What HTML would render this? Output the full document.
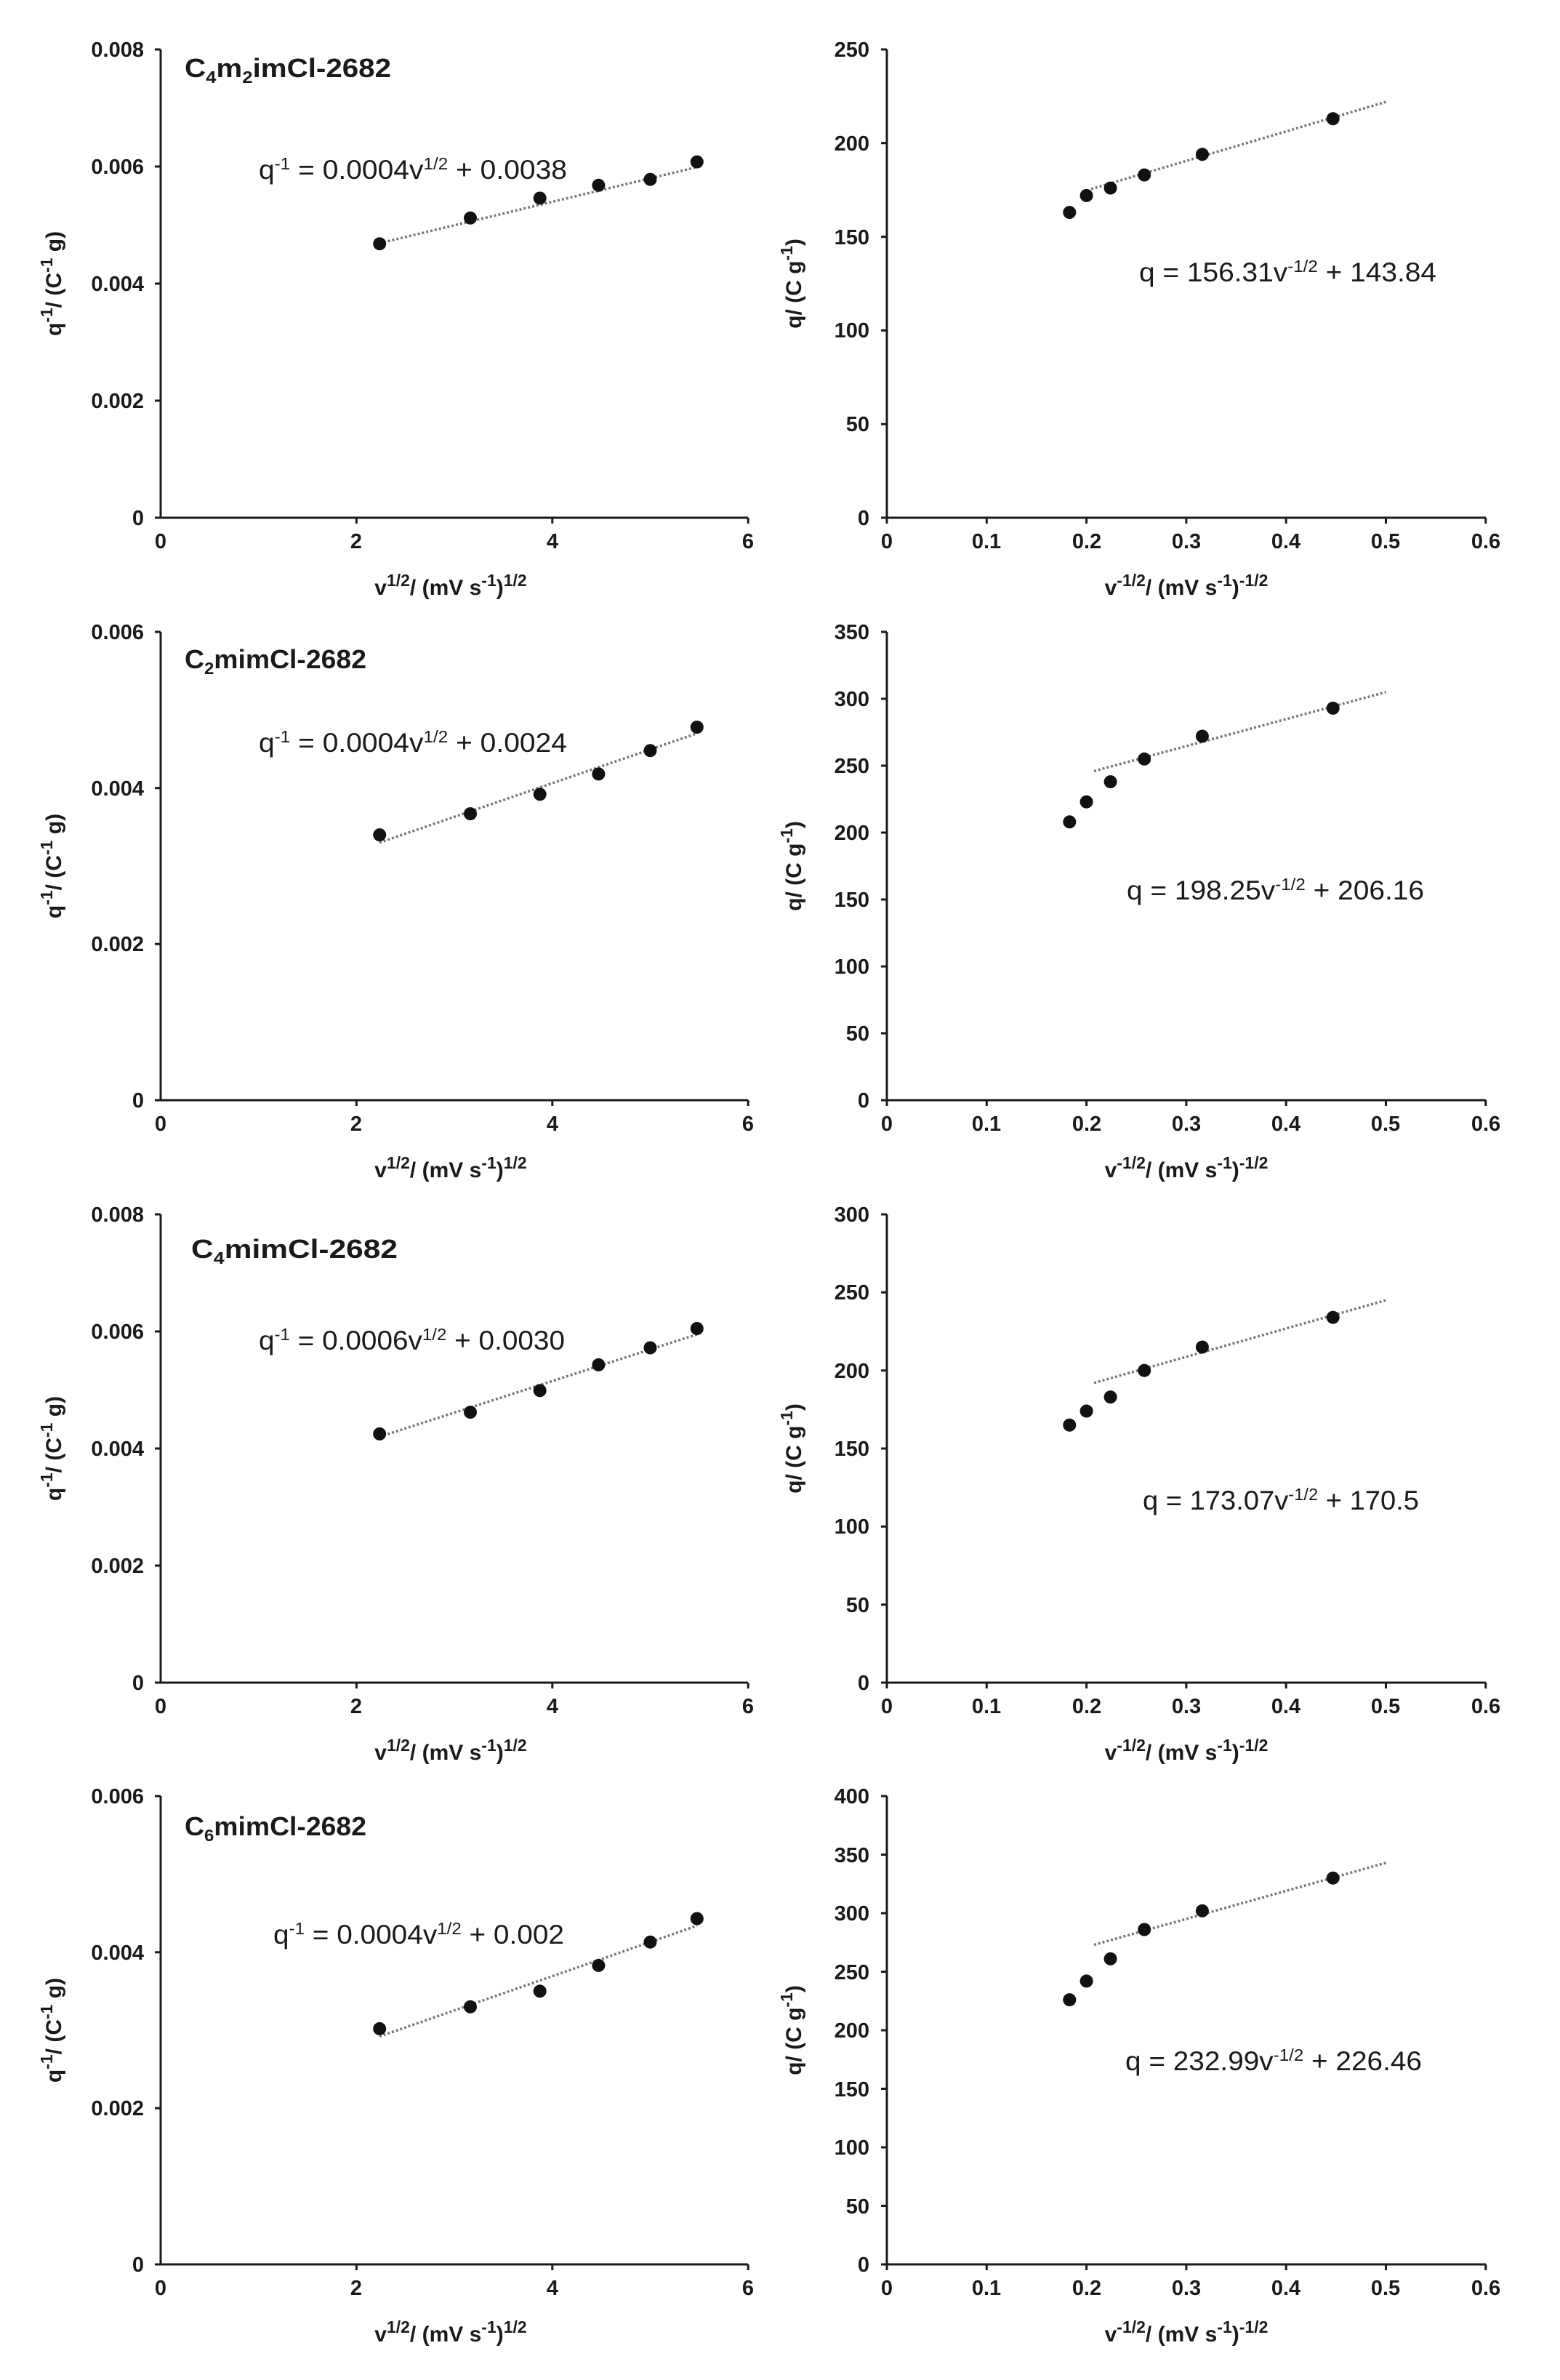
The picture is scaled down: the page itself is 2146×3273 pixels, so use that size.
<!DOCTYPE html>
<html><head><meta charset="utf-8"><style>
html,body{margin:0;padding:0;background:#fff}
svg{display:block}
text{font-family:"Liberation Sans",Arial,sans-serif;fill:#1a1a1a}
.tk{font-size:29px;font-weight:bold}
.tl{font-size:30px;font-weight:bold}
.ti{font-size:36px;font-weight:bold}
.eq{font-size:37px}
.ax{stroke:#1a1a1a;stroke-width:3;fill:none}
.tr{stroke:#777;stroke-width:3.5;stroke-dasharray:3 3;fill:none}
.sup{font-size:23px}
</style></head><body>
<svg width="2146" height="3273" viewBox="0 0 2146 3273" xmlns="http://www.w3.org/2000/svg">
<defs>
<g id="xl">
<path class="ax" d="M221 0V644H1029M221 644h-8M221 0h-8M490.4 644v8M759.8 644v8M1029.2 644v8"/>
</g>
<g id="xlab">
<text class="tk" x="221" y="686" text-anchor="middle">0</text>
<text class="tk" x="490" y="686" text-anchor="middle">2</text>
<text class="tk" x="760" y="686" text-anchor="middle">4</text>
<text class="tk" x="1029" y="686" text-anchor="middle">6</text>
<text class="tl" x="620" y="750" text-anchor="middle">v<tspan class="sup" dy="-12">1/2</tspan><tspan dy="12">/ (mV s</tspan><tspan class="sup" dy="-12">-1</tspan><tspan dy="12">)</tspan><tspan class="sup" dy="-12">1/2</tspan></text>
<text class="tl" transform="translate(84,322) rotate(-90)" text-anchor="middle">q<tspan class="sup" dy="-12">-1</tspan><tspan dy="12">/ (C</tspan><tspan class="sup" dy="-12">-1</tspan><tspan dy="12"> g)</tspan></text>
</g>
<g id="xr">
<path class="ax" d="M1220 0V644H2044M1220 644v8M1357.3 644v8M1494.6 644v8M1631.9 644v8M1769.2 644v8M1906.5 644v8M2043.8 644v8"/>
<text class="tk" x="1220" y="686" text-anchor="middle">0</text>
<text class="tk" x="1357" y="686" text-anchor="middle">0.1</text>
<text class="tk" x="1495" y="686" text-anchor="middle">0.2</text>
<text class="tk" x="1632" y="686" text-anchor="middle">0.3</text>
<text class="tk" x="1769" y="686" text-anchor="middle">0.4</text>
<text class="tk" x="1906" y="686" text-anchor="middle">0.5</text>
<text class="tk" x="2044" y="686" text-anchor="middle">0.6</text>
<text class="tl" x="1632" y="750" text-anchor="middle">v<tspan class="sup" dy="-12">-1/2</tspan><tspan dy="12">/ (mV s</tspan><tspan class="sup" dy="-12">-1</tspan><tspan dy="12">)</tspan><tspan class="sup" dy="-12">-1/2</tspan></text>
<text class="tl" transform="translate(1102,322) rotate(-90)" text-anchor="middle">q/ (C g<tspan class="sup" dy="-12">-1</tspan><tspan dy="12">)</tspan></text>
</g>
</defs>

<!-- Row 1 -->
<g transform="translate(0,68)">
<use href="#xl"/><use href="#xlab"/>
<path class="ax" d="M221 483h-8M221 322h-8M221 161h-8"/>
<g class="tk" text-anchor="end"><text x="198" y="654">0</text><text x="198" y="493">0.002</text><text x="198" y="332">0.004</text><text x="198" y="171">0.006</text><text x="198" y="10">0.008</text></g>
<text class="ti" x="254" y="38" textLength="284" lengthAdjust="spacingAndGlyphs">C<tspan class="sup" dy="8">4</tspan><tspan dy="-8">m</tspan><tspan class="sup" dy="8">2</tspan><tspan dy="-8">imCl-2682</tspan></text>
<text class="eq" x="356" y="178" textLength="424" lengthAdjust="spacingAndGlyphs">q<tspan class="sup" dy="-13">-1</tspan><tspan dy="13"> = 0.0004v</tspan><tspan class="sup" dy="-13">1/2</tspan><tspan dy="13"> + 0.0038</tspan></text>
<path class="tr" d="M522 266.5L959 161.8"/>
<g fill="#111"><circle cx="522.2" cy="267.3" r="9"/><circle cx="647" cy="231.8" r="9"/><circle cx="742.7" cy="204.5" r="9"/><circle cx="823.4" cy="186.8" r="9"/><circle cx="894.5" cy="178.7" r="9"/><circle cx="958.8" cy="154.6" r="9"/></g>
<use href="#xr"/>
<path class="ax" d="M1220 515.2h-8M1220 386.4h-8M1220 257.6h-8M1220 128.8h-8M1220 0h-8M1220 644h-8"/>
<g class="tk" text-anchor="end"><text x="1196" y="654">0</text><text x="1196" y="525">50</text><text x="1196" y="396">100</text><text x="1196" y="268">150</text><text x="1196" y="139">200</text><text x="1196" y="10">250</text></g>
<text class="eq" x="1567" y="319" textLength="409" lengthAdjust="spacingAndGlyphs">q = 156.31v<tspan class="sup" dy="-13">-1/2</tspan><tspan dy="13"> + 143.84</tspan></text>
<path class="tr" d="M1501 192L1906.5 72.1"/>
<g fill="#111"><circle cx="1471.3" cy="224.1" r="9"/><circle cx="1494.6" cy="200.9" r="9"/><circle cx="1527.6" cy="190.6" r="9"/><circle cx="1574.2" cy="172.6" r="9"/><circle cx="1653.9" cy="144.3" r="9"/><circle cx="1833.7" cy="95.3" r="9"/></g>
</g>

<!-- Row 2 -->
<g transform="translate(0,869)">
<use href="#xl"/><use href="#xlab"/>
<path class="ax" d="M221 429.3h-8M221 214.7h-8"/>
<g class="tk" text-anchor="end"><text x="198" y="654">0</text><text x="198" y="439">0.002</text><text x="198" y="225">0.004</text><text x="198" y="10">0.006</text></g>
<text class="ti" x="254" y="50" textLength="250" lengthAdjust="spacingAndGlyphs">C<tspan class="sup" dy="8">2</tspan><tspan dy="-8">mimCl-2682</tspan></text>
<text class="eq" x="356" y="165" textLength="424" lengthAdjust="spacingAndGlyphs">q<tspan class="sup" dy="-13">-1</tspan><tspan dy="13"> = 0.0004v</tspan><tspan class="sup" dy="-13">1/2</tspan><tspan dy="13"> + 0.0024</tspan></text>
<path class="tr" d="M522 289.8L959 139.5"/>
<g fill="#111"><circle cx="522.2" cy="279.1" r="9"/><circle cx="647" cy="250.1" r="9"/><circle cx="742.7" cy="223.3" r="9"/><circle cx="823.4" cy="195.4" r="9"/><circle cx="894.5" cy="163.2" r="9"/><circle cx="958.8" cy="131" r="9"/></g>
<use href="#xr"/>
<path class="ax" d="M1220 644h-8M1220 552h-8M1220 460h-8M1220 368h-8M1220 276h-8M1220 184h-8M1220 92h-8M1220 0h-8"/>
<g class="tk" text-anchor="end"><text x="1196" y="654">0</text><text x="1196" y="562">50</text><text x="1196" y="470">100</text><text x="1196" y="378">150</text><text x="1196" y="286">200</text><text x="1196" y="194">250</text><text x="1196" y="102">300</text><text x="1196" y="10">350</text></g>
<text class="eq" x="1550" y="368" textLength="409" lengthAdjust="spacingAndGlyphs">q = 198.25v<tspan class="sup" dy="-13">-1/2</tspan><tspan dy="13"> + 206.16</tspan></text>
<path class="tr" d="M1505 191.4L1906.5 82.8"/>
<g fill="#111"><circle cx="1471.3" cy="261.3" r="9"/><circle cx="1494.6" cy="233.7" r="9"/><circle cx="1527.6" cy="206.1" r="9"/><circle cx="1574.2" cy="174.8" r="9"/><circle cx="1653.9" cy="143.5" r="9"/><circle cx="1833.7" cy="104.9" r="9"/></g>
</g>

<!-- Row 3 -->
<g transform="translate(0,1670)">
<use href="#xl"/><use href="#xlab"/>
<path class="ax" d="M221 483h-8M221 322h-8M221 161h-8"/>
<g class="tk" text-anchor="end"><text x="198" y="654">0</text><text x="198" y="493">0.002</text><text x="198" y="332">0.004</text><text x="198" y="171">0.006</text><text x="198" y="10">0.008</text></g>
<text class="ti" x="263" y="60" textLength="284" lengthAdjust="spacingAndGlyphs">C<tspan class="sup" dy="8">4</tspan><tspan dy="-8">mimCl-2682</tspan></text>
<text class="eq" x="356" y="186" textLength="421" lengthAdjust="spacingAndGlyphs">q<tspan class="sup" dy="-13">-1</tspan><tspan dy="13"> = 0.0006v</tspan><tspan class="sup" dy="-13">1/2</tspan><tspan dy="13"> + 0.0030</tspan></text>
<path class="tr" d="M522 305.9L959 165"/>
<g fill="#111"><circle cx="522.2" cy="301.9" r="9"/><circle cx="647" cy="272.1" r="9"/><circle cx="742.7" cy="242.3" r="9"/><circle cx="823.4" cy="206.9" r="9"/><circle cx="894.5" cy="183.5" r="9"/><circle cx="958.8" cy="157" r="9"/></g>
<use href="#xr"/>
<path class="ax" d="M1220 644h-8M1220 536.7h-8M1220 429.3h-8M1220 322h-8M1220 214.7h-8M1220 107.3h-8M1220 0h-8"/>
<g class="tk" text-anchor="end"><text x="1196" y="654">0</text><text x="1196" y="547">50</text><text x="1196" y="439">100</text><text x="1196" y="332">150</text><text x="1196" y="225">200</text><text x="1196" y="117">250</text><text x="1196" y="10">300</text></g>
<text class="eq" x="1572" y="406" textLength="380" lengthAdjust="spacingAndGlyphs">q = 173.07v<tspan class="sup" dy="-13">-1/2</tspan><tspan dy="13"> + 170.5</tspan></text>
<path class="tr" d="M1505 231.8L1906.5 118.1"/>
<g fill="#111"><circle cx="1471.3" cy="289.8" r="9"/><circle cx="1494.6" cy="270.5" r="9"/><circle cx="1527.6" cy="251.2" r="9"/><circle cx="1574.2" cy="214.7" r="9"/><circle cx="1653.9" cy="182.5" r="9"/><circle cx="1833.7" cy="141.7" r="9"/></g>
</g>

<!-- Row 4 -->
<g transform="translate(0,2470)">
<use href="#xl"/><use href="#xlab"/>
<path class="ax" d="M221 429.3h-8M221 214.7h-8"/>
<g class="tk" text-anchor="end"><text x="198" y="654">0</text><text x="198" y="439">0.002</text><text x="198" y="225">0.004</text><text x="198" y="10">0.006</text></g>
<text class="ti" x="254" y="54" textLength="250" lengthAdjust="spacingAndGlyphs">C<tspan class="sup" dy="8">6</tspan><tspan dy="-8">mimCl-2682</tspan></text>
<text class="eq" x="376" y="203" textLength="400" lengthAdjust="spacingAndGlyphs">q<tspan class="sup" dy="-13">-1</tspan><tspan dy="13"> = 0.0004v</tspan><tspan class="sup" dy="-13">1/2</tspan><tspan dy="13"> + 0.002</tspan></text>
<path class="tr" d="M522 330.6L959 178.2"/>
<g fill="#111"><circle cx="522.2" cy="319.9" r="9"/><circle cx="647" cy="289.8" r="9"/><circle cx="742.7" cy="268.3" r="9"/><circle cx="823.4" cy="232.9" r="9"/><circle cx="894.5" cy="200.7" r="9"/><circle cx="958.8" cy="168.5" r="9"/></g>
<use href="#xr"/>
<path class="ax" d="M1220 644h-8M1220 563.5h-8M1220 483h-8M1220 402.5h-8M1220 322h-8M1220 241.5h-8M1220 161h-8M1220 80.5h-8M1220 0h-8"/>
<g class="tk" text-anchor="end"><text x="1196" y="654">0</text><text x="1196" y="574">50</text><text x="1196" y="493">100</text><text x="1196" y="413">150</text><text x="1196" y="332">200</text><text x="1196" y="252">250</text><text x="1196" y="171">300</text><text x="1196" y="91">350</text><text x="1196" y="10">400</text></g>
<text class="eq" x="1548" y="377" textLength="408" lengthAdjust="spacingAndGlyphs">q = 232.99v<tspan class="sup" dy="-13">-1/2</tspan><tspan dy="13"> + 226.46</tspan></text>
<path class="tr" d="M1505 204.5L1906.5 91.8"/>
<g fill="#111"><circle cx="1471.3" cy="280.1" r="9"/><circle cx="1494.6" cy="254.4" r="9"/><circle cx="1527.6" cy="223.8" r="9"/><circle cx="1574.2" cy="183.5" r="9"/><circle cx="1653.9" cy="157.8" r="9"/><circle cx="1833.7" cy="112.7" r="9"/></g>
</g>
</svg>
</body></html>
